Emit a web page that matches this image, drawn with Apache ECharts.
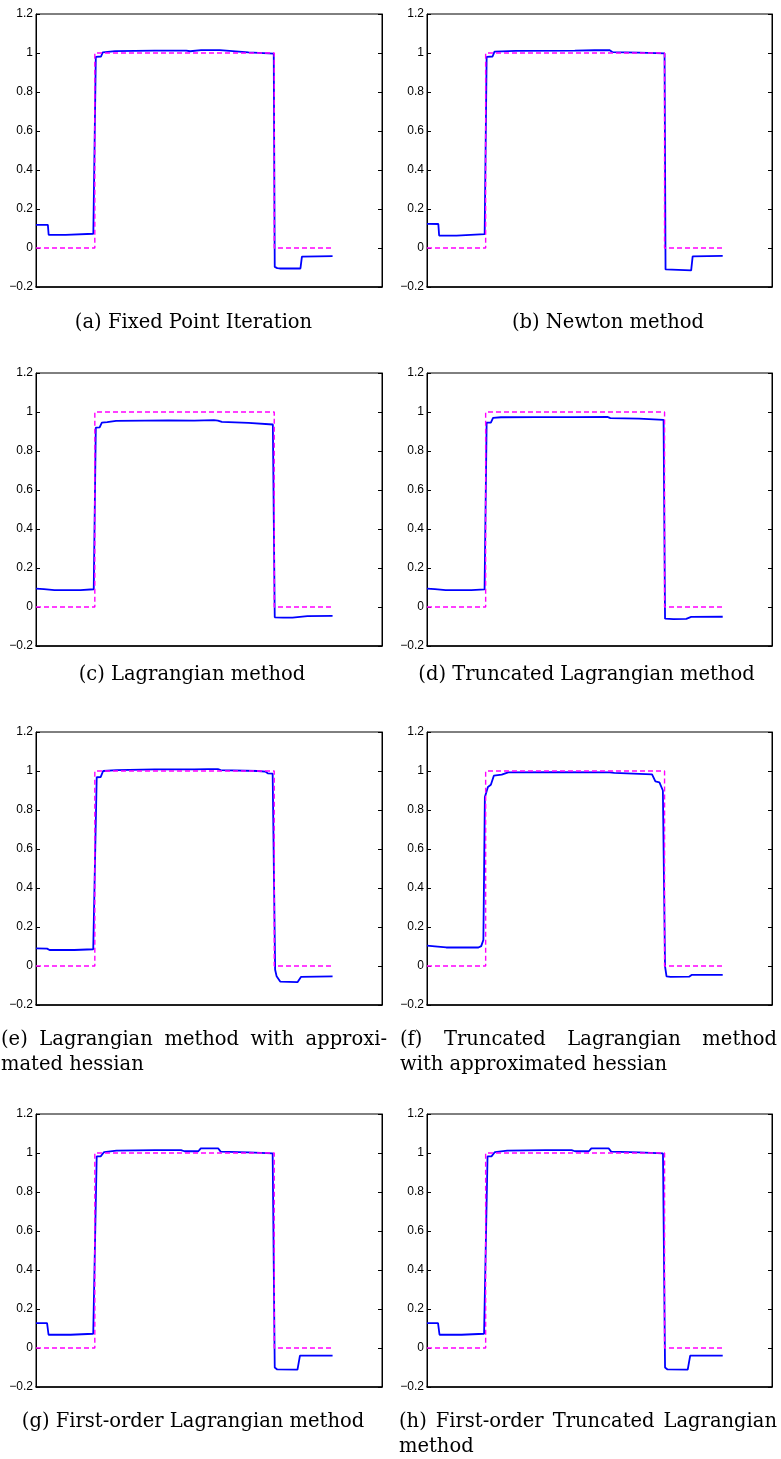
<!DOCTYPE html>
<html>
<head>
<meta charset="utf-8">
<script src="https://cdn.jsdelivr.net/npm/echarts@6/dist/echarts.min.js"></script>
<style>
  html, body { margin: 0; padding: 0; background: #fff; }
  #chart { width: 781px; height: 1459px; }
</style>
</head>
<body>
<div id="chart"></div>
<script>
// ---------- data ----------
const yTickValues = [-0.2, 0, 0.2, 0.4, 0.6, 0.8, 1, 1.2];
const yTickLabels = ['\u22120.2', '0', '0.2', '0.4', '0.6', '0.8', '1', '1.2'];

// exact (target) solution, dashed magenta
const targetX = [0, 59.5, 59.5, 241, 241, 300];
const targetY = [0, 0, 1, 1, 0, 0];

// (a) Fixed Point Iteration
const fixedPointX = [0, 12, 12.8, 30, 58, 60.5, 61.5, 65.8, 67.5, 80, 120, 152, 156, 167, 186, 188, 215, 240.5, 241.5, 244, 246.5, 267.5, 269, 285, 300];
const fixedPointY = [0.119, 0.119, 0.068, 0.067, 0.073, 0.98, 0.98, 0.982, 1.003, 1.01, 1.012, 1.012, 1.009, 1.015, 1.015, 1.005, 1.003, 0.997, -0.097, -0.103, -0.105, -0.105, -0.044, -0.043, -0.042];

// (b) Newton method
const newtonX = [0, 11.5, 12.3, 30, 58.5, 60.5, 61.5, 66.5, 68.5, 90, 150, 170, 185, 188, 215, 241, 242, 244, 268, 269.5, 300];
const newtonY = [0.124, 0.123, 0.064, 0.063, 0.071, 0.98, 0.98, 0.982, 1.007, 1.011, 1.012, 1.014, 1.015, 1.005, 1.002, 0.998, -0.11, -0.114, -0.115, -0.043, -0.04];

// (c) Lagrangian method
const lagrangianX = [0, 8, 18.7, 45, 58.4, 60.5, 64.4, 66.6, 72, 81, 110, 134, 160, 180, 184, 188, 215, 239.6, 241.5, 250, 259.5, 274.5, 300];
const lagrangianY = [0.094, 0.092, 0.087, 0.087, 0.091, 0.92, 0.921, 0.946, 0.948, 0.954, 0.956, 0.957, 0.956, 0.958, 0.956, 0.949, 0.944, 0.936, -0.053, -0.055, -0.054, -0.047, -0.046];

// (d) Truncated Lagrangian method
const truncLagX = [0, 8, 19, 45, 58.4, 60.5, 64.8, 67, 75, 110, 150, 183, 186, 215, 240, 241.5, 250, 263, 268, 300];
const truncLagY = [0.094, 0.092, 0.087, 0.087, 0.09, 0.945, 0.946, 0.97, 0.973, 0.974, 0.974, 0.975, 0.969, 0.966, 0.96, -0.06, -0.062, -0.061, -0.051, -0.05];

// (e) Lagrangian method with approximated hessian
const lagApproxX = [0, 11.2, 13.7, 38.8, 57.9, 61.4, 65.4, 67.9, 81.4, 120, 160, 174, 184, 186.8, 224.4, 231.9, 234.4, 239.4, 241.9, 243.4, 247, 264.5, 268, 300];
const lagApproxY = [0.09, 0.089, 0.082, 0.082, 0.086, 0.968, 0.969, 1.0, 1.005, 1.008, 1.008, 1.01, 1.01, 1.005, 1.0, 0.997, 0.988, 0.987, -0.019, -0.053, -0.08, -0.083, -0.056, -0.053];

// (f) Truncated Lagrangian method with approximated hessian
const truncApproxX = [0, 8, 19.5, 52.2, 55, 57.2, 58.7, 61.8, 64.8, 67.8, 75.8, 82.4, 130, 185.5, 190, 228.3, 231.7, 235.8, 239.3, 241.5, 243, 247, 265.9, 268.4, 300];
const truncApproxY = [0.104, 0.101, 0.095, 0.095, 0.102, 0.134, 0.866, 0.918, 0.929, 0.976, 0.981, 0.993, 0.994, 0.993, 0.99, 0.983, 0.947, 0.942, 0.9, -0.002, -0.053, -0.056, -0.055, -0.046, -0.046];

// (g) First-order Lagrangian method
const firstLagX = [0, 11.2, 12.7, 35, 57.9, 61.4, 65.4, 68.9, 81.4, 120, 146.7, 150.1, 164.2, 166.7, 184.2, 186.8, 215, 239.4, 241.5, 244, 264.5, 267, 300];
const firstLagY = [0.128, 0.128, 0.068, 0.068, 0.073, 0.983, 0.983, 1.005, 1.012, 1.015, 1.015, 1.009, 1.009, 1.024, 1.024, 1.007, 1.003, 0.998, -0.1, -0.11, -0.111, -0.039, -0.039];

// (h) First-order Truncated Lagrangian method
const firstTruncX = [0, 11.2, 12.7, 35, 57.9, 61.4, 65.4, 68.9, 81.4, 120, 146.7, 150.1, 164.2, 166.7, 184.2, 186.8, 215, 239.4, 241.5, 244, 264.5, 267, 300];
const firstTruncY = [0.128, 0.128, 0.068, 0.068, 0.073, 0.983, 0.983, 1.005, 1.012, 1.015, 1.015, 1.009, 1.009, 1.024, 1.024, 1.007, 1.003, 0.998, -0.1, -0.11, -0.111, -0.039, -0.039];

const captions = [
  ['(a) Fixed Point Iteration'],
  ['(b) Newton method'],
  ['(c) Lagrangian method'],
  ['(d) Truncated Lagrangian method'],
  ['(e) Lagrangian method with approxi-', 'mated hessian'],
  ['(f) Truncated Lagrangian method', 'with approximated hessian'],
  ['(g) First-order Lagrangian method'],
  ['(h) First-order Truncated Lagrangian', 'method']
];

// ---------- layout ----------
const panelSeries = [
  [fixedPointX, fixedPointY], [newtonX, newtonY],
  [lagrangianX, lagrangianY], [truncLagX, truncLagY],
  [lagApproxX, lagApproxY], [truncApproxX, truncApproxY],
  [firstLagX, firstLagY], [firstTruncX, firstTruncY]
];
const colLeft = [36, 427];
const colWidth = [346, 345];
const rowTop = [14, 373, 732, 1114];
const plotH = 273;
const captionLayout = [
  { mode: 'center', cx: 193.5, y: [323] },
  { mode: 'center', cx: 608, y: [323] },
  { mode: 'center', cx: 192, y: [675] },
  { mode: 'center', cx: 586.5, y: [675] },
  { mode: 'justify', left: 1, right: 387, y: [1040, 1065] },
  { mode: 'justify', left: 400, right: 777, y: [1040, 1065] },
  { mode: 'center', cx: 193, y: [1422] },
  { mode: 'justify', left: 399, right: 777, y: [1422, 1447] }
];
const capFontSize = 19.5;
const capFontFamily = 'DejaVu Serif';
const capFont = capFontSize + 'px "' + capFontFamily + '"';

const grids = [], xAxes = [], yAxes = [], series = [];
for (let i = 0; i < 8; i++) {
  const r = Math.floor(i / 2), c = i % 2;
  grids.push({ left: colLeft[c], top: rowTop[r], width: colWidth[c], height: plotH,
    show: true, borderColor: '#000', borderWidth: 1, backgroundColor: '#fff', containLabel: false });
  xAxes.push({ type: 'value', gridIndex: i, min: 0, max: 350,
    axisLine: { show: true, onZero: false, lineStyle: { color: '#000', width: 1.6 } },
    axisTick: { show: false }, axisLabel: { show: false }, splitLine: { show: false } });
  const yCommon = { type: 'value', gridIndex: i, min: -0.2, max: 1.2, interval: 0.2,
    splitLine: { show: false },
    axisLine: { show: true, onZero: false, lineStyle: { color: '#000', width: 1 } },
    axisTick: { show: true, inside: true, length: 4, lineStyle: { color: '#000', width: 1 } } };
  yAxes.push(Object.assign({}, yCommon, { position: 'left',
    axisLabel: { show: true, margin: 3, color: '#000', fontFamily: 'Liberation Sans', fontSize: 12,
      formatter: v => { const k = yTickValues.findIndex(t => Math.abs(t - v) < 1e-6); return k >= 0 ? yTickLabels[k] : ''; } } }));
  yAxes.push(Object.assign({}, yCommon, { position: 'right', axisLabel: { show: false } }));
  const [xs, ys] = panelSeries[i];
  series.push({ type: 'line', xAxisIndex: i, yAxisIndex: 2 * i, showSymbol: false, symbol: 'none',
    data: xs.map((x, k) => [x, ys[k]]), lineStyle: { color: '#0000ff', width: 1.8 }, z: 2 });
  series.push({ type: 'line', xAxisIndex: i, yAxisIndex: 2 * i, showSymbol: false, symbol: 'none',
    data: targetX.map((x, k) => [x, targetY[k]]), lineStyle: { color: '#ff00ff', width: 1.4, type: [5, 3] }, z: 3 });
}

// captions as real text
const mctx = document.createElement('canvas').getContext('2d');
mctx.font = capFont;
const graphics = [];
function textEl(str, x, y, align) {
  return { type: 'text', x: x, y: y, silent: true,
    style: { text: str, font: capFont, fontSize: capFontSize, fontFamily: capFontFamily, fill: '#000',
      align: align, textAlign: align, verticalAlign: 'middle', textVerticalAlign: 'middle' } };
}
captions.forEach((lines, i) => {
  const L = captionLayout[i];
  lines.forEach((line, li) => {
    const y = L.y[li];
    if (L.mode === 'center') {
      graphics.push(textEl(line, L.cx, y, 'center'));
    } else if (li === lines.length - 1) {
      graphics.push(textEl(line, L.left, y, 'left'));
    } else {
      const words = line.split(' ');
      const widths = words.map(w => mctx.measureText(w).width);
      const total = widths.reduce((a, b) => a + b, 0);
      const gap = (L.right - L.left - total) / (words.length - 1);
      let x = L.left;
      words.forEach((w, k) => { graphics.push(textEl(w, x, y, 'left')); x += widths[k] + gap; });
    }
  });
});

const chart = echarts.init(document.getElementById('chart'), null, { renderer: 'canvas' });
chart.setOption({
  animation: false,
  backgroundColor: '#fff',
  grid: grids, xAxis: xAxes, yAxis: yAxes, series: series,
  graphic: { elements: graphics }
});
</script>
</body>
</html>
